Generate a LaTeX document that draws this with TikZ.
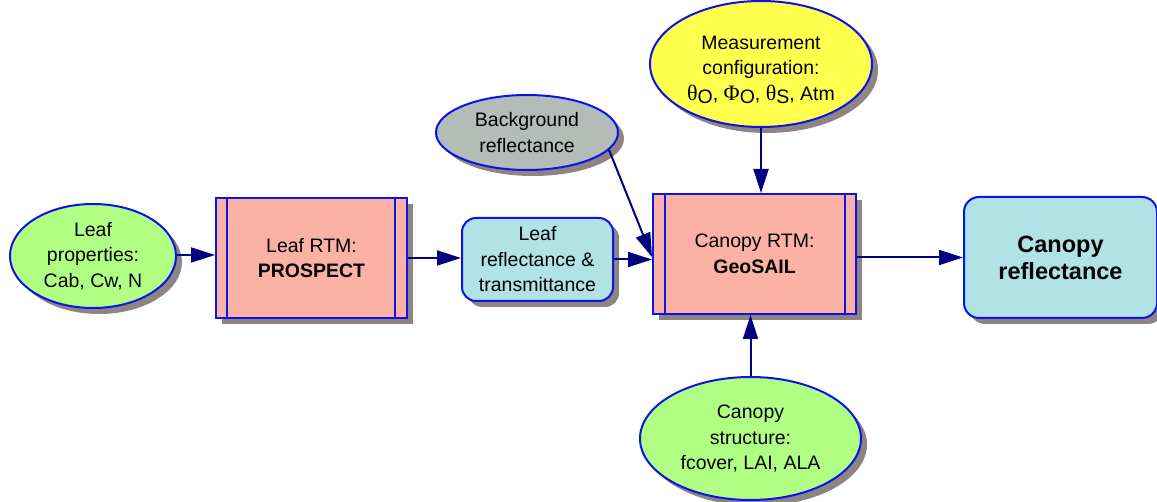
\documentclass[tikz,border=0pt]{standalone}
\usepackage{fontspec}
\setmainfont{Liberation Sans}
\newfontfamily\greekfont{Liberation Serif}
\usetikzlibrary{shapes.geometric,arrows.meta,shadows}
\definecolor{bordblue}{HTML}{0A14E6}
\definecolor{arrnavy}{HTML}{000080}
\definecolor{leafgreen}{HTML}{B0FF84}
\definecolor{salmon}{HTML}{FBB2A4}
\definecolor{lblue}{HTML}{B0E2E6}
\definecolor{bggray}{HTML}{B4BCB8}
\definecolor{yel}{HTML}{FFFF4E}
\definecolor{shadowgray}{HTML}{8E8484}
\tikzset{
  base/.style={draw=bordblue, line width=2pt, align=center, inner sep=0pt,
    font=\fontsize{19.5}{25.5}\selectfont,
    drop shadow={shadow xshift=6pt, shadow yshift=-6pt, fill=shadowgray, opacity=1}},
  oval/.style={base, ellipse},
  rtm/.style={base, rectangle, fill=salmon},
  rbox/.style={base, rectangle, rounded corners=14pt, fill=lblue},
  innerline/.style={draw=bordblue, line width=2pt},
  arr/.style={draw=arrnavy, line width=2pt, -{Triangle[length=24pt,width=15pt]}}
}
\newcommand{\gsub}[2]{{\greekfont\fontsize{22}{25.5}\selectfont #1}\smash{\raisebox{-3.5pt}{#2}}}
\begin{document}
\begin{tikzpicture}[x=1pt,y=-1pt]
\useasboundingbox (0,0) rectangle (1157,502);

\node[oval, fill=leafgreen, minimum width=166pt, minimum height=104pt] (leafprop) at (93,256)
  {Leaf\\properties:\\Cab, Cw, N};
\node[rtm, minimum width=191pt, minimum height=120pt] (prospect) at (311.5,258)
  {Leaf RTM:\\\textbf{PROSPECT}};
\draw[innerline] ([xshift=12pt]prospect.north west) -- ([xshift=12pt]prospect.south west);
\draw[innerline] ([xshift=-13pt]prospect.north east) -- ([xshift=-13pt]prospect.south east);

\node[rbox, minimum width=151pt, minimum height=83pt] (leafrefl) at (537.5,259.5)
  {Leaf\\reflectance \&\\transmittance};

\node[oval, fill=bggray, minimum width=182pt, minimum height=75pt] (bg) at (527,132.5)
  {Background\\reflectance};

\node[rtm, minimum width=203pt, minimum height=120pt] (geosail) at (754.5,254)
  {Canopy RTM:\\\textbf{GeoSAIL}};
\draw[innerline] ([xshift=13pt]geosail.north west) -- ([xshift=13pt]geosail.south west);
\draw[innerline] ([xshift=-12pt]geosail.north east) -- ([xshift=-12pt]geosail.south east);

\node[oval, fill=yel, minimum width=222pt, minimum height=126pt] (meas) at (761,64)
  {\rule{0pt}{24pt}Measurement\\configuration:\\\gsub{θ}{O}, \gsub{Φ}{O}, \gsub{θ}{S}, Atm};

\node[oval, fill=leafgreen, minimum width=221pt, minimum height=123pt] (cstruct) at (750.5,438.5)
  {Canopy\\structure:\\fcover, LAI, ALA};

\node[rbox, rounded corners=15pt, minimum width=193pt, minimum height=121pt,
  font=\bfseries\fontsize{23.5}{27}\selectfont] (crefl) at (1060.5,257.5)
  {Canopy\\reflectance};

\draw[arr] (leafprop.east |- prospect.west) ++(0,-3) coordinate (lpE) (lpE) -- ([yshift=3pt]prospect.west);
\draw[arr] (prospect.east) -- (leafrefl.west |- prospect.east);
\draw[arr] (leafrefl.east) -- (geosail.west |- leafrefl.east);
\draw[arr] (bg.-12) -- ([yshift=-3pt]geosail.west);
\draw[arr] (meas.south) -- (meas.south |- geosail.north);
\draw[arr] (cstruct.north) -- (cstruct.north |- geosail.south);
\draw[arr] (geosail.east |- crefl.west) -- (crefl.west);
\end{tikzpicture}
\end{document}
